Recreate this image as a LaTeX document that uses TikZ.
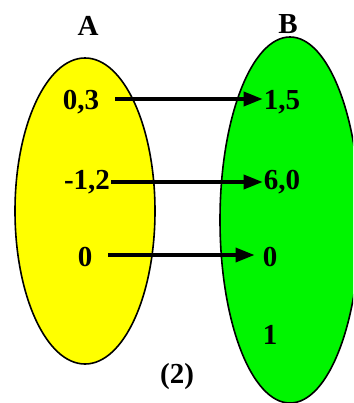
\documentclass[tikz,border=0pt]{standalone}
\usepackage{fontspec}
\setmainfont{Liberation Serif}
\usetikzlibrary{arrows.meta}
\definecolor{setyellow}{RGB}{255,255,0}
\definecolor{setgreen}{RGB}{0,245,0}
\begin{document}
\begin{tikzpicture}[x=1pt,y=-1pt,
  lbl/.style={font=\fontsize{29}{29}\selectfont\bfseries, inner sep=0pt},
  maparrow/.style={line width=3.5pt, -{Triangle[length=19pt,width=14pt]}}]
\useasboundingbox (0,0) rectangle (353,403);
\fill[white] (0,0) rectangle (353,403);
\begin{scope}
\clip (0,0) rectangle (353,403);
\draw[line width=1.6pt, fill=setyellow] (85,211) ellipse [x radius=70, y radius=153];
\draw[line width=1.6pt, fill=setgreen] (290,220) ellipse [x radius=70, y radius=183];
\end{scope}
\node[lbl] (A) at (88,26) {A};
\node[lbl] (B) at (288,24) {B};
\node[lbl] (a1) at (81,102) {0,3};
\node[lbl] (a2) at (87,182) {-1,2};
\node[lbl] (a3) at (85,257) {0};
\node[lbl] (b1) at (282,102) {1,5};
\node[lbl] (b2) at (282,182) {6,0};
\node[lbl] (b3) at (270,257) {0};
\node[lbl] (b4) at (270,335) {1};
\node[lbl] (lab) at (177,377) {(2)};
\draw[maparrow, shorten <=16pt, shorten >=1pt] (a1.east |- 0,99) -- (b1.west |- 0,99);
\draw[maparrow, shorten <=1pt, shorten >=1pt] (a2.east |- 0,182) -- (b2.west |- 0,182);
\draw[maparrow, shorten <=16pt, shorten >=8pt] (a3.east |- 0,255) -- (b3.west |- 0,255);
\end{tikzpicture}
\end{document}
